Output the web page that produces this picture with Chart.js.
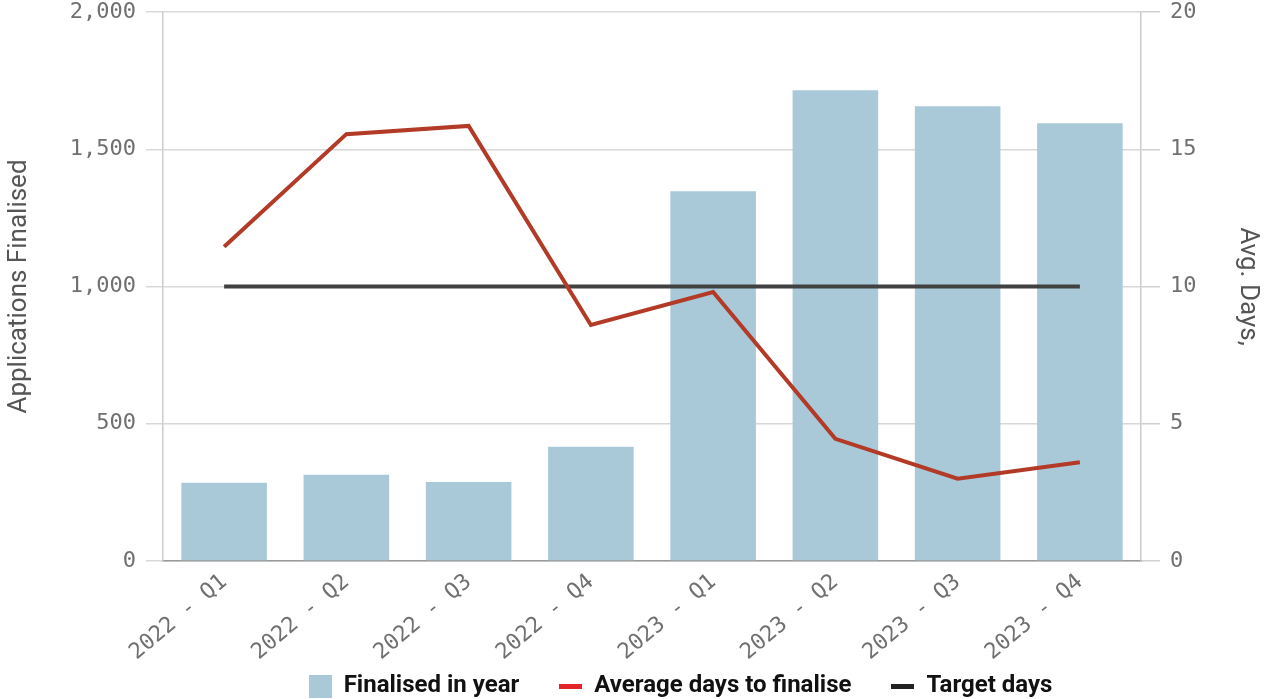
<!DOCTYPE html>
<html>
<head>
<meta charset="utf-8">
<script src="https://cdn.jsdelivr.net/npm/chart.js@4.4.1/dist/chart.umd.min.js"></script>
<style>
  html, body { margin: 0; padding: 0; background: #fff; }
  #wrap { width: 1271px; height: 699px; }
</style>
</head>
<body>
<div id="wrap"><canvas id="appsChart"></canvas></div>
<script>
const quarters = ['2022 - Q1', '2022 - Q2', '2022 - Q3', '2022 - Q4', '2023 - Q1', '2023 - Q2', '2023 - Q3', '2023 - Q4'];
const finalised = [285, 314, 288, 416, 1347, 1715, 1657, 1595];
const avgDays = [11.45, 15.55, 15.85, 8.6, 9.8, 4.45, 3.0, 3.6];
const targetDays = [10, 10, 10, 10, 10, 10, 10, 10];
const leftTicks = [0, 500, 1000, 1500, 2000];
const rightTicks = [0, 5, 10, 15, 20];

const tickFont = { family: "'DejaVu Sans Mono', monospace", size: 22 };
const tickColor = '#707070';

// little canvases used as legend markers
function marker(w, h, color) {
    const c = document.createElement('canvas');
    c.width = w;
    c.height = h;
    const g = c.getContext('2d');
    g.fillStyle = color;
    g.fillRect(0, 0, w, h);
    return c;
}
const legendMarks = [marker(23, 23, '#a9c9d9'), marker(23, 5, '#e2252b'), marker(23, 5, '#222222')];

// keep the legend block short, the item padding is only wanted sideways
if (Chart.Legend && Chart.Legend._element) {
    const origFit = Chart.Legend._element.prototype.fit;
    Chart.Legend._element.prototype.fit = function () {
        origFit.call(this);
        if (this.isHorizontal()) this.height = 30;
    };
}

// x labels need the room down to the legend, so move the legend up afterwards
const placeLegend = {
    id: 'placeLegend',
    afterLayout(chart) {
        chart.legend.left += 90;
        chart.legend.top = 634;
    }
};

// no extra room for the end labels of the value axes
function fixY(width) {
    return scale => {
        scale.width = width;
        scale.paddingTop = 0;
        scale.paddingBottom = 0;
    };
}

const appsChart = new Chart(
    document.getElementById('appsChart'),
    {
    type: 'bar',
    plugins: [placeLegend],
    data: {
        labels: quarters,
        datasets: [{
            type: 'line',
            label: 'Average days to finalise',
            data: avgDays,
            yAxisID: 'yDays',
            borderColor: '#b23a26',
            borderWidth: 4,
            pointRadius: 0,
            tension: 0,
            order: 0
        }, {
            type: 'line',
            label: 'Target days',
            data: targetDays,
            yAxisID: 'yDays',
            borderColor: '#414141',
            borderWidth: 4,
            pointRadius: 0,
            tension: 0,
            order: 1
        }, {
            label: 'Finalised in year',
            data: finalised,
            yAxisID: 'yApps',
            backgroundColor: '#a9c9d9',
            barPercentage: 0.7,
            categoryPercentage: 1,
            order: 2
        }]
    },
    options: {
        responsive: true,
        maintainAspectRatio: false,
        animation: false,
        layout: { padding: { top: 12 } },
        scales: {
            x: {
                grid: { display: false, drawTicks: false },
                border: { display: true, color: '#9a9a9a', width: 1.5 },
                ticks: {
                    font: tickFont,
                    color: tickColor,
                    minRotation: 40,
                    maxRotation: 40,
                    padding: 8
                },
                afterFit(scale) { scale.height = 108; }
            },
            yApps: {
                position: 'left',
                min: 0,
                max: 2000,
                afterBuildTicks(scale) { scale.ticks = leftTicks.map(v => ({ value: v })); },
                grid: { color: '#d8d8d8', lineWidth: 1.5, tickLength: 17 },
                border: { color: '#cccccc', width: 1.5 },
                ticks: {
                    font: tickFont,
                    color: tickColor,
                    padding: 10,
                    callback: v => v.toLocaleString('en-US')
                },
                title: {
                    display: true,
                    text: 'Applications Finalised',
                    color: '#555555',
                    font: { family: 'Roboto', size: 26 },
                    padding: { top: 4, bottom: 0 }
                },
                afterFit: fixY(163)
            },
            yDays: {
                position: 'right',
                min: 0,
                max: 20,
                afterBuildTicks(scale) { scale.ticks = rightTicks.map(v => ({ value: v })); },
                grid: { drawOnChartArea: false, color: '#d0d0d0', lineWidth: 1.5, tickLength: 19 },
                border: { color: '#cccccc', width: 1.5 },
                ticks: { font: tickFont, color: tickColor, padding: 10 },
                title: {
                    display: true,
                    text: 'Avg. Days,',
                    color: '#555555',
                    font: { family: 'Roboto', size: 26 },
                    padding: { top: 8, bottom: 0 }
                },
                afterFit: fixY(130)
            }
        },
        plugins: {
            tooltip: { enabled: false },
            legend: {
                position: 'bottom',
                labels: {
                    usePointStyle: true,
                    pointStyleWidth: 23,
                    boxHeight: 23,
                    padding: 40,
                    color: '#111111',
                    font: { family: 'Roboto', size: 24, weight: 'bold' },
                    generateLabels: () => ['Finalised in year', 'Average days to finalise', 'Target days'].map((t, i) => ({
                        text: t,
                        pointStyle: legendMarks[i],
                        fontColor: '#111111',
                        hidden: false,
                        lineWidth: 0,
                        datasetIndex: [2, 0, 1][i]
                    }))
                }
            }
        }
    }
});
</script>
</body>
</html>
